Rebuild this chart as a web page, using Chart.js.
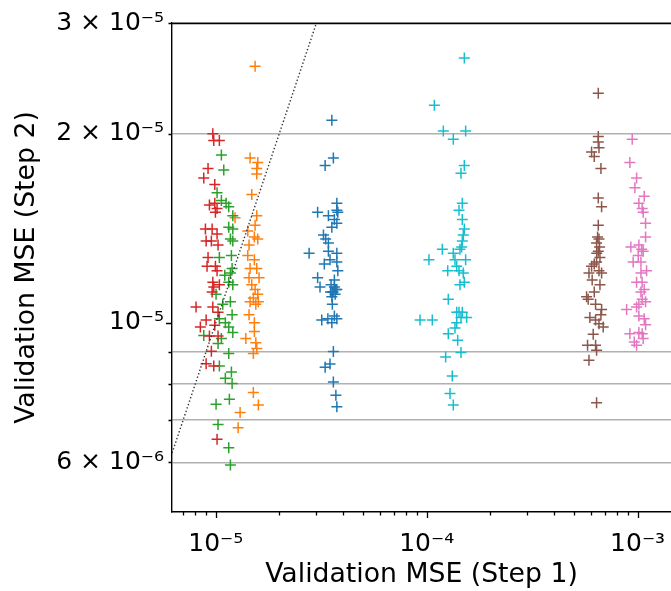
<!DOCTYPE html>
<html>
<head>
<meta charset="utf-8">
<script src="https://cdn.jsdelivr.net/npm/chart.js@4.4.1/dist/chart.umd.min.js"></script>
<style>
  html, body { margin: 0; padding: 0; background: #fff; overflow: hidden; }
  canvas { display: block; }
</style>
</head>
<body>
<canvas id="mseChart" width="671" height="591"></canvas>
<script>
// each run: [validation MSE step 1, validation MSE step 2]
const bluePts = [
  [3.55e-5, 2.10e-5], [3.61e-5, 1.83e-5], [3.30e-5, 1.78e-5], [3.75e-5, 1.55e-5],
  [3.04e-5, 1.50e-5], [3.42e-5, 1.48e-5], [3.75e-5, 1.51e-5], [3.79e-5, 1.50e-5],
  [3.65e-5, 1.46e-5], [3.75e-5, 1.44e-5], [3.55e-5, 1.42e-5], [3.24e-5, 1.38e-5],
  [3.32e-5, 1.36e-5], [3.42e-5, 1.34e-5], [2.77e-5, 1.29e-5], [3.42e-5, 1.30e-5],
  [3.75e-5, 1.29e-5], [3.48e-5, 1.26e-5], [3.27e-5, 1.24e-5], [3.75e-5, 1.25e-5],
  [3.79e-5, 1.21e-5], [3.04e-5, 1.18e-5], [3.65e-5, 1.17e-5], [3.12e-5, 1.14e-5],
  [3.52e-5, 1.15e-5], [3.65e-5, 1.14e-5], [3.75e-5, 1.13e-5], [3.57e-5, 1.12e-5],
  [3.68e-5, 1.11e-5], [3.55e-5, 1.10e-5], [3.60e-5, 1.12e-5], [3.70e-5, 1.13e-5],
  [3.50e-5, 1.12e-5], [3.57e-5, 1.07e-5], [3.40e-5, 1.015e-5], [3.18e-5, 1.01e-5],
  [3.55e-5, 1.00e-5], [3.65e-5, 1.025e-5], [3.75e-5, 1.015e-5], [3.61e-5, 0.90e-5],
  [3.30e-5, 0.85e-5], [3.48e-5, 0.86e-5], [3.61e-5, 0.805e-5], [3.71e-5, 0.767e-5],
  [3.75e-5, 0.735e-5]
];
const orangePts = [
  [1.536e-5, 2.56e-5], [1.454e-5, 1.83e-5], [1.581e-5, 1.80e-5], [1.564e-5, 1.76e-5],
  [1.564e-5, 1.725e-5], [1.481e-5, 1.60e-5], [1.564e-5, 1.48e-5], [1.234e-5, 1.47e-5],
  [1.536e-5, 1.43e-5], [1.418e-5, 1.40e-5], [1.524e-5, 1.37e-5], [1.581e-5, 1.36e-5],
  [1.438e-5, 1.33e-5], [1.418e-5, 1.28e-5], [1.524e-5, 1.26e-5], [1.454e-5, 1.22e-5],
  [1.564e-5, 1.22e-5], [1.438e-5, 1.18e-5], [1.604e-5, 1.18e-5], [1.481e-5, 1.15e-5],
  [1.536e-5, 1.13e-5], [1.581e-5, 1.11e-5], [1.507e-5, 1.095e-5], [1.454e-5, 1.08e-5],
  [1.548e-5, 1.07e-5], [1.592e-5, 1.08e-5], [1.438e-5, 1.03e-5], [1.524e-5, 1.00e-5],
  [1.524e-5, 0.969e-5], [1.388e-5, 0.944e-5], [1.548e-5, 0.930e-5], [1.564e-5, 0.910e-5],
  [1.507e-5, 0.894e-5], [1.507e-5, 0.775e-5], [1.592e-5, 0.740e-5], [1.304e-5, 0.720e-5],
  [1.276e-5, 0.681e-5]
];
const greenPts = [
  [1.063e-5, 1.85e-5], [1.091e-5, 1.75e-5], [1.014e-5, 1.61e-5], [1.063e-5, 1.565e-5],
  [1.119e-5, 1.55e-5], [1.152e-5, 1.53e-5], [1.204e-5, 1.48e-5], [1.152e-5, 1.42e-5],
  [1.204e-5, 1.41e-5], [1.173e-5, 1.36e-5], [1.204e-5, 1.35e-5], [1.040e-5, 1.27e-5],
  [1.186e-5, 1.28e-5], [1.195e-5, 1.22e-5], [1.173e-5, 1.20e-5], [1.103e-5, 1.19e-5],
  [1.152e-5, 1.16e-5], [1.204e-5, 1.15e-5], [1.003e-5, 1.11e-5], [1.173e-5, 1.08e-5],
  [1.079e-5, 1.07e-5], [1.195e-5, 1.03e-5], [1.040e-5, 1.015e-5], [1.110e-5, 1.00e-5],
  [1.152e-5, 0.985e-5], [1.204e-5, 0.965e-5], [0.877e-5, 0.955e-5], [1.025e-5, 0.927e-5],
  [1.063e-5, 0.944e-5], [1.152e-5, 0.894e-5], [1.040e-5, 0.854e-5], [1.186e-5, 0.835e-5],
  [1.110e-5, 0.816e-5], [1.195e-5, 0.801e-5], [1.160e-5, 0.756e-5], [1.003e-5, 0.742e-5],
  [1.025e-5, 0.689e-5], [1.152e-5, 0.633e-5], [1.173e-5, 0.594e-5]
];
const redPts = [
  [0.968e-5, 2.00e-5], [0.978e-5, 1.95e-5], [1.040e-5, 1.95e-5], [0.919e-5, 1.76e-5],
  [0.877e-5, 1.70e-5], [0.989e-5, 1.66e-5], [0.933e-5, 1.54e-5], [0.989e-5, 1.55e-5],
  [1.014e-5, 1.52e-5], [0.996e-5, 1.50e-5], [0.893e-5, 1.41e-5], [0.961e-5, 1.41e-5],
  [1.014e-5, 1.385e-5], [0.900e-5, 1.35e-5], [0.953e-5, 1.35e-5], [1.025e-5, 1.33e-5],
  [0.919e-5, 1.27e-5], [0.909e-5, 1.23e-5], [0.996e-5, 1.23e-5], [1.014e-5, 1.21e-5],
  [0.968e-5, 1.16e-5], [0.978e-5, 1.14e-5], [0.961e-5, 1.12e-5], [1.040e-5, 1.15e-5],
  [0.806e-5, 1.06e-5], [0.968e-5, 1.06e-5], [1.025e-5, 1.04e-5], [0.900e-5, 1.01e-5],
  [0.845e-5, 0.985e-5], [0.933e-5, 0.953e-5], [1.025e-5, 0.953e-5], [0.989e-5, 0.991e-5],
  [0.953e-5, 0.901e-5], [0.900e-5, 0.861e-5], [0.978e-5, 0.854e-5], [1.014e-5, 0.653e-5]
];
const brownPts = [
  [6.51e-4, 2.32e-5], [6.51e-4, 1.98e-5], [6.51e-4, 1.94e-5], [6.56e-4, 1.90e-5],
  [6.05e-4, 1.87e-5], [6.23e-4, 1.84e-5], [6.70e-4, 1.76e-5], [6.51e-4, 1.58e-5],
  [6.75e-4, 1.53e-5], [6.51e-4, 1.43e-5], [6.46e-4, 1.37e-5], [6.56e-4, 1.36e-5],
  [6.39e-4, 1.34e-5], [6.60e-4, 1.32e-5], [6.51e-4, 1.30e-5], [6.40e-4, 1.29e-5],
  [6.63e-4, 1.27e-5], [6.39e-4, 1.25e-5], [6.23e-4, 1.24e-5], [6.05e-4, 1.23e-5],
  [6.56e-4, 1.21e-5], [6.75e-4, 1.20e-5], [5.88e-4, 1.20e-5], [6.09e-4, 1.17e-5],
  [6.63e-4, 1.15e-5], [6.23e-4, 1.12e-5], [5.73e-4, 1.10e-5], [5.83e-4, 1.09e-5],
  [6.32e-4, 1.07e-5], [6.75e-4, 1.05e-5], [6.70e-4, 1.03e-5], [5.94e-4, 1.02e-5],
  [6.32e-4, 1.01e-5], [6.56e-4, 0.997e-5], [6.87e-4, 0.985e-5], [6.16e-4, 0.959e-5],
  [5.79e-4, 0.921e-5], [6.32e-4, 0.921e-5], [6.39e-4, 0.904e-5], [5.88e-4, 0.872e-5],
  [6.39e-4, 0.746e-5]
];
const pinkPts = [
  [9.43e-4, 1.96e-5], [9.19e-4, 1.80e-5], [9.89e-4, 1.70e-5], [9.71e-4, 1.64e-5],
  [1.075e-3, 1.59e-5], [1.014e-3, 1.55e-5], [1.051e-3, 1.52e-5], [1.063e-3, 1.50e-5],
  [1.091e-3, 1.44e-5], [1.091e-3, 1.37e-5], [9.29e-4, 1.32e-5], [1.014e-3, 1.33e-5],
  [1.045e-3, 1.31e-5], [1.063e-3, 1.30e-5], [1.007e-3, 1.28e-5], [9.53e-4, 1.25e-5],
  [1.037e-3, 1.25e-5], [1.103e-3, 1.21e-5], [1.037e-3, 1.20e-5], [9.89e-4, 1.16e-5],
  [1.051e-3, 1.16e-5], [1.075e-3, 1.13e-5], [1.037e-3, 1.12e-5], [1.051e-3, 1.09e-5],
  [1.091e-3, 1.08e-5], [1.014e-3, 1.07e-5], [9.89e-4, 1.06e-5], [8.87e-4, 1.05e-5],
  [1.014e-3, 1.025e-5], [1.075e-3, 1.015e-5], [1.091e-3, 0.993e-5], [9.19e-4, 0.961e-5],
  [1.014e-3, 0.965e-5], [1.051e-3, 0.961e-5], [1.063e-3, 0.944e-5], [9.64e-4, 0.932e-5],
  [9.89e-4, 0.921e-5]
];
const cyanPts = [
  [1.508e-4, 2.64e-5], [1.087e-4, 2.22e-5], [1.199e-4, 2.02e-5], [1.530e-4, 2.02e-5],
  [1.337e-4, 1.96e-5], [1.508e-4, 1.78e-5], [1.454e-4, 1.73e-5], [1.475e-4, 1.55e-5],
  [1.423e-4, 1.51e-5], [1.475e-4, 1.46e-5], [1.508e-4, 1.41e-5], [1.491e-4, 1.38e-5],
  [1.475e-4, 1.35e-5], [1.465e-4, 1.32e-5], [1.438e-4, 1.31e-5], [1.186e-4, 1.31e-5],
  [1.337e-4, 1.29e-5], [1.025e-4, 1.26e-5], [1.530e-4, 1.26e-5], [1.362e-4, 1.26e-5],
  [1.388e-4, 1.23e-5], [1.423e-4, 1.21e-5], [1.258e-4, 1.21e-5], [1.491e-4, 1.20e-5],
  [1.508e-4, 1.16e-5], [1.438e-4, 1.15e-5], [1.266e-4, 1.09e-5], [1.388e-4, 1.04e-5],
  [1.423e-4, 1.04e-5], [1.475e-4, 1.04e-5], [1.454e-4, 1.02e-5], [1.547e-4, 1.02e-5],
  [1.388e-4, 1.00e-5], [1.362e-4, 0.981e-5], [9.30e-5, 1.01e-5], [1.063e-4, 1.01e-5],
  [1.266e-4, 0.961e-5], [1.403e-4, 0.938e-5], [1.230e-4, 0.882e-5], [1.454e-4, 0.897e-5],
  [1.322e-4, 0.823e-5], [1.290e-4, 0.772e-5], [1.337e-4, 0.740e-5]
];

// y = x reference line
const diagonal = [1e-6, 1e-3];

// axis ticks
const xTicks = [7e-6, 8e-6, 9e-6, 1e-5, 2e-5, 3e-5, 4e-5, 5e-5, 6e-5, 7e-5, 8e-5, 9e-5,
                1e-4, 2e-4, 3e-4, 4e-4, 5e-4, 6e-4, 7e-4, 8e-4, 9e-4, 1e-3];
const xMajor = [1e-5, 1e-4, 1e-3];
const xLabels = ['10⁻⁵', '10⁻⁴', '10⁻³'];
const yTicks = [6e-6, 7e-6, 8e-6, 9e-6, 1e-5, 2e-5, 3e-5];
const yMajor = [1e-5];
const yLabelAt = [6e-6, 1e-5, 2e-5, 3e-5];
const yLabels = ['6 × 10⁻⁶', '10⁻⁵', '2 × 10⁻⁵', '3 × 10⁻⁵'];

const series = [
  { pts: bluePts, color: '#1f77b4' },
  { pts: orangePts, color: '#ff7f0e' },
  { pts: greenPts, color: '#2ca02c' },
  { pts: redPts, color: '#d62728' },
  { pts: brownPts, color: '#8c564b' },
  { pts: pinkPts, color: '#e377c2' },
  { pts: cyanPts, color: '#17becf' }
];

const same = (a, b) => Math.abs(a / b - 1) < 1e-6;
const findIdx = (list, v) => list.findIndex(t => same(t, v));

Chart.defaults.font.family = "'DejaVu Sans', sans-serif";
Chart.defaults.color = '#000';

// short ticks on minor values, longer on decades; plus the top spine
const axisMarks = {
  id: 'axisMarks',
  afterDraw(chart) {
    const { ctx, chartArea: a, scales: { x, y } } = chart;
    ctx.save();
    ctx.strokeStyle = '#000';
    ctx.lineWidth = 1.3;
    ctx.beginPath();
    xTicks.forEach(v => {
      const px = Math.round(x.getPixelForValue(v)) + 0.5;
      const len = findIdx(xMajor, v) >= 0 ? 6 : 3.5;
      ctx.moveTo(px, a.bottom);
      ctx.lineTo(px, a.bottom + len);
    });
    yTicks.forEach(v => {
      const py = Math.round(y.getPixelForValue(v)) + 0.5;
      const len = findIdx(yMajor, v) >= 0 ? 6 : 3.5;
      ctx.moveTo(a.left, py);
      ctx.lineTo(a.left - len, py);
    });
    ctx.stroke();
    ctx.lineWidth = 1.4;
    ctx.beginPath();
    ctx.moveTo(a.left, Math.round(a.top) + 0.5);
    ctx.lineTo(a.right, Math.round(a.top) + 0.5);
    ctx.stroke();
    ctx.restore();
  }
};

const datasets = series.map((s, i) => ({
  type: 'scatter',
  data: s.pts.map(p => ({ x: p[0], y: p[1] })),
  pointStyle: 'cross',
  pointRadius: 5.5,
  pointBorderWidth: 1.5,
  borderColor: s.color,
  backgroundColor: s.color,
  order: 20 - i
}));
datasets.push({
  type: 'line',
  data: diagonal.map(v => ({ x: v, y: v })),
  borderColor: '#333',
  borderWidth: 1.4,
  borderDash: [1.4, 2.2],
  pointRadius: 0,
  fill: false,
  order: 0
});

new Chart(document.getElementById('mseChart'), {
  type: 'scatter',
  data: { datasets },
  options: {
    responsive: false,
    animation: false,
    devicePixelRatio: 1,
    events: [],
    layout: { autoPadding: false, padding: { top: 23, right: 0, left: 0, bottom: 0 } },
    plugins: { legend: { display: false }, tooltip: { enabled: false } },
    scales: {
      x: {
        type: 'logarithmic',
        min: 6.2e-6,
        max: 1.44e-3,
        afterBuildTicks: s => { s.ticks = xTicks.map(v => ({ value: v })); },
        afterFit: s => { s.height = 79; s.paddingLeft = 0; s.paddingRight = 0; },
        ticks: {
          autoSkip: false,
          maxRotation: 0,
          padding: 9,
          font: { size: 25 },
          callback: v => { const i = findIdx(xMajor, v); return i >= 0 ? xLabels[i] : ''; }
        },
        grid: { display: false },
        border: { display: true, color: '#000', width: 1.4 },
        title: {
          display: true,
          text: 'Validation MSE (Step 1)',
          font: { size: 26.7 },
          padding: { top: 0, bottom: 0 }
        }
      },
      y: {
        type: 'logarithmic',
        min: 5e-6,
        max: 3e-5,
        afterBuildTicks: s => { s.ticks = yTicks.map(v => ({ value: v })); },
        afterFit: s => { s.width = 172; s.paddingTop = 0; s.paddingBottom = 0; },
        ticks: {
          autoSkip: false,
          padding: 8,
          font: { size: 25 },
          callback: v => { const i = findIdx(yLabelAt, v); return i >= 0 ? yLabels[i] : ''; }
        },
        grid: {
          drawOnChartArea: true,
          drawTicks: false,
          lineWidth: 1.4,
          color: c => (c.tick && findIdx(yMajor, c.tick.value) >= 0) ? 'rgba(0,0,0,0)' : '#b0b0b0'
        },
        border: { display: true, color: '#000', width: 1.4 },
        title: {
          display: true,
          text: 'Validation MSE (Step 2)',
          font: { size: 26.7 },
          padding: { top: 11, bottom: 0 }
        }
      }
    }
  },
  plugins: [axisMarks]
});
</script>
</body>
</html>
